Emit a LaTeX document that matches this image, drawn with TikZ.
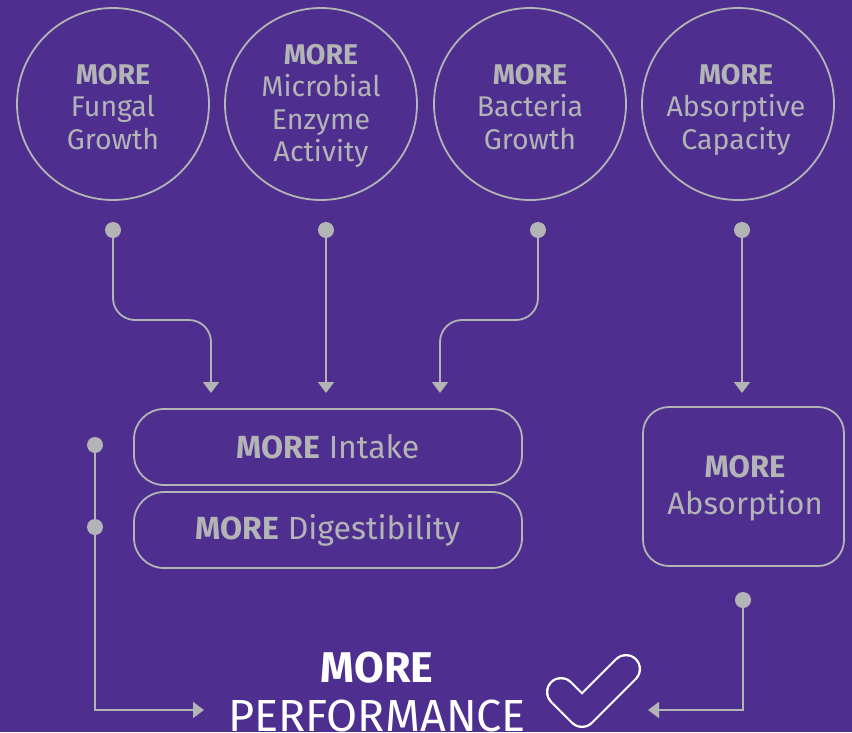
\documentclass[tikz,border=0pt]{standalone}
\usepackage{fontspec}
\setmainfont{Fira Sans}
\usetikzlibrary{arrows.meta}
\definecolor{bgpurple}{RGB}{78,47,143}
\definecolor{lgray}{RGB}{178,180,182}
\begin{document}
\begin{tikzpicture}[x=1pt,y=-1pt,
  bubble/.style={circle,draw=lgray,line width=1.8pt,minimum size=192pt,inner sep=0pt},
  btext/.style={anchor=north,text=lgray,align=center,inner sep=0pt,font=\fontsize{28.5}{32.5}\selectfont},
  pill/.style={rectangle,draw=lgray,line width=1.8pt,rounded corners=30pt,minimum width=388pt,minimum height=76pt,text=lgray,font=\fontsize{32}{36}\selectfont},
  absbox/.style={rectangle,draw=lgray,line width=1.8pt,rounded corners=26pt,minimum width=201pt,minimum height=159pt},
  atext/.style={anchor=north,text=lgray,align=center,inner sep=0pt,font=\fontsize{31}{37}\selectfont},
  dotnode/.style={circle,fill=lgray,minimum size=16pt,inner sep=0pt},
  conn/.style={draw=lgray,line width=1.8pt,rounded corners=22pt,-{Triangle[width=16pt,length=11pt]}},
]
\fill[bgpurple] (0,0) rectangle (852,732);
\useasboundingbox (0,0) rectangle (852,732);

% circles
\node[bubble] (c1) at (113,104) {};
\node[bubble] (c2) at (321,104) {};
\node[bubble] (c3) at (530,104) {};
\node[bubble] (c4) at (738,104) {};
\node[btext] (t1) at (113,64) {\textbf{MORE}\\Fungal\\Growth};
\node[btext] (t2) at (321,44) {\textbf{MORE}\\Microbial\\Enzyme\\Activity};
\node[btext] (t3) at (530,64) {\textbf{MORE}\\Bacteria\\Growth};
\node[btext] (t4) at (736,64) {\textbf{MORE}\\Absorptive\\Capacity};

% dots
\node[dotnode] (d1) at (113,230) {};
\node[dotnode] (d2) at (326,230) {};
\node[dotnode] (d3) at (538,230) {};
\node[dotnode] (d4) at (742,230) {};

% boxes
\node[pill] (intake) at (328,447) {\textbf{MORE} Intake};
\node[pill] (dig) at (328,530) {\textbf{MORE} Digestibility};
\node[absbox] (abs) at (743.5,486.5) {};
\node[atext] (at) at (745,455) {\textbf{MORE}\\Absorption};

% arrow end points
\coordinate (a1) at (211,393);
\coordinate (a2) at (326,393);
\coordinate (a3) at (440,393);
\coordinate (a4) at (742,393);

\draw[conn] (d1.center) -- (113,320) -- (211,320) -- (a1);
\draw[conn] (d2.center) -- (a2);
\draw[conn] (d3.center) -- (538,320) -- (440,320) -- (a3);
\draw[conn] (d4.center) -- (a4);

% side connectors
\node[dotnode] (l1) at (95,445) {};
\node[dotnode] (l2) at (95,527) {};
\node[dotnode] (r1) at (743,600) {};
\coordinate (pl) at (204,710);
\coordinate (pr) at (648,710);
\draw[conn,rounded corners=0pt] (l1.center) -- (95,710) -- (pl);
\draw[conn,rounded corners=0pt] (r1.center) -- (743,710) -- (pr);

% performance
\node[text=white,font=\bfseries\fontsize{43}{48}\selectfont] (more) at (377,668) {MORE};
\node[text=white,font=\fontsize{45}{50}\selectfont] (perf) at (377,716) {PERFORMANCE};

% check mark
\draw[white,line width=30pt,line cap=round,line join=round] (561,692) -- (582,713) -- (626,669);
\draw[bgpurple,line width=25.5pt,line cap=round,line join=round] (561,692) -- (582,713) -- (626,669);
\end{tikzpicture}
\end{document}
